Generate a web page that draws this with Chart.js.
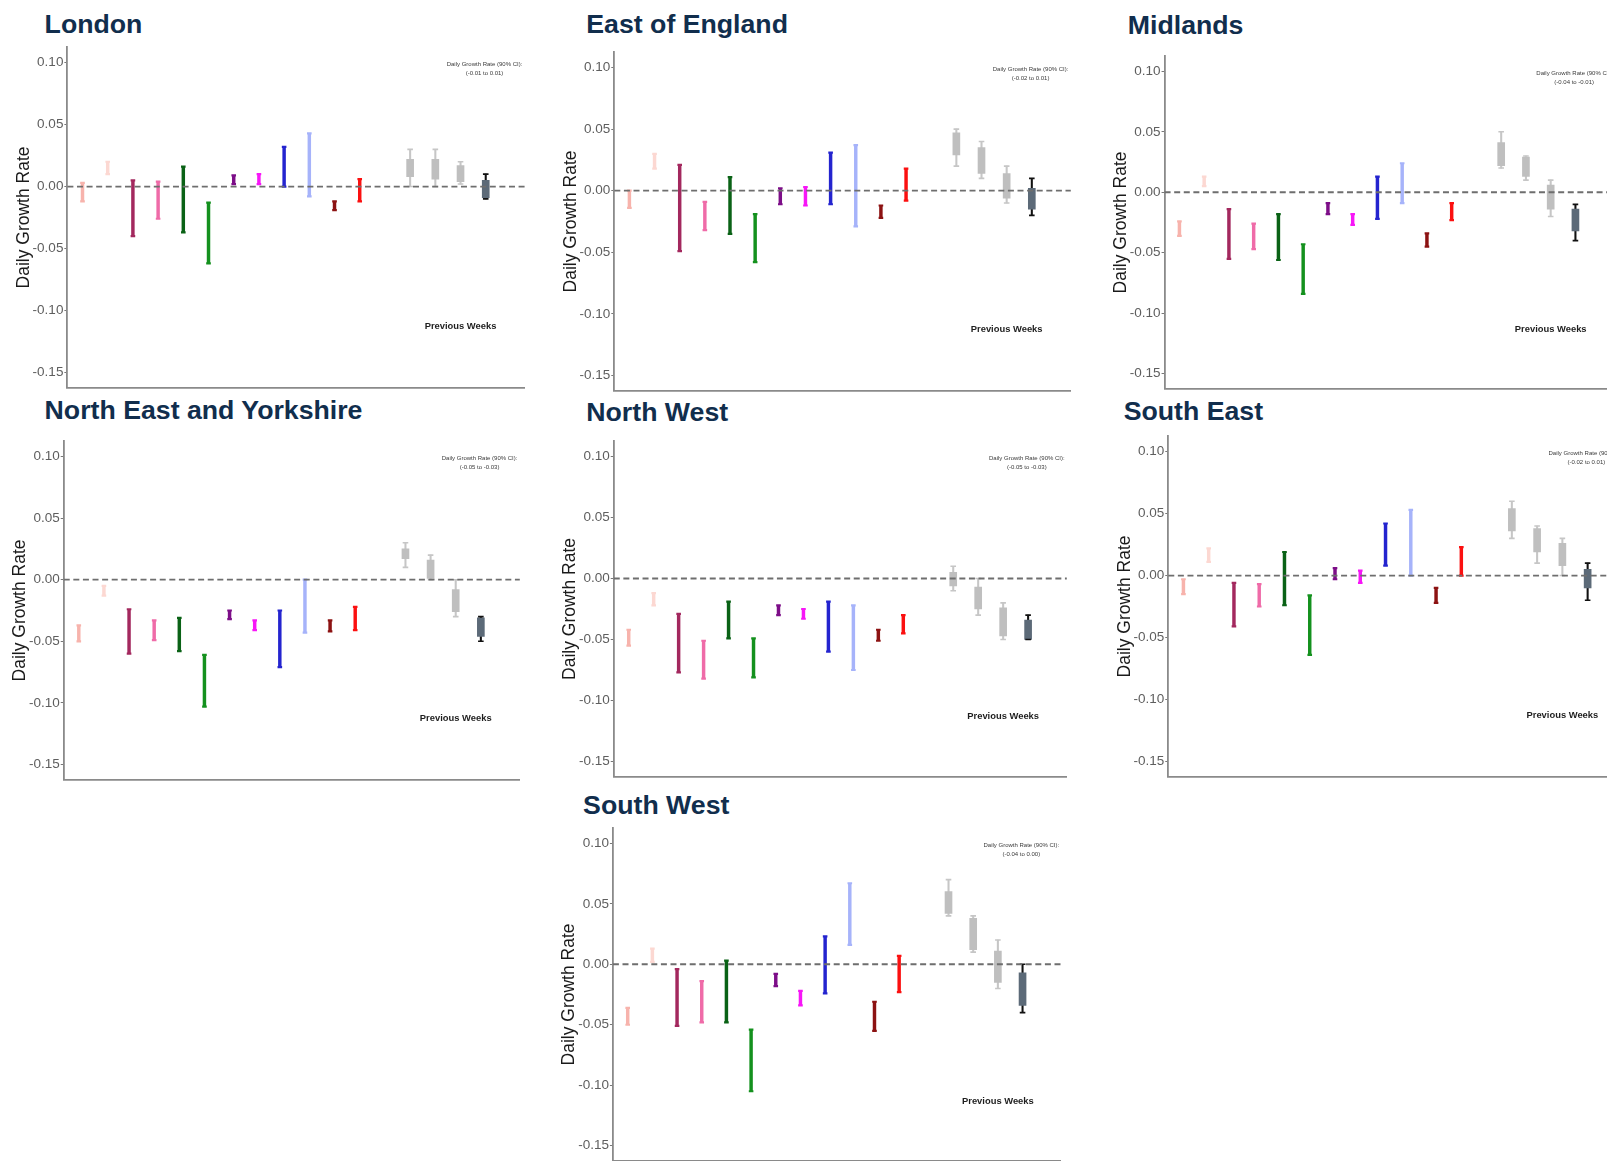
<!DOCTYPE html>
<html>
<head>
<meta charset="utf-8">
<title>Daily Growth Rate by Region</title>
<script src="https://cdn.jsdelivr.net/npm/chart.js@4.4.1/dist/chart.umd.min.js"></script>
<style>
  html, body { margin: 0; padding: 0; background: #ffffff; }
  body { position: relative; width: 1607px; height: 1161px; overflow: hidden;
         font-family: "Liberation Sans", Arial, Helvetica, sans-serif; }
  .region-title { position: absolute; white-space: nowrap; font-weight: bold;
                  font-size: 26.7px; line-height: 26.7px; color: #112e4d; }
  canvas.panel { position: absolute; }
</style>
</head>
<body>
<script>
// ---------------------------------------------------------------
// Data: daily growth rate intervals (90% CI) for each variant group,
// plus the four previous-week estimates shown as grey box plots.
// ---------------------------------------------------------------
const regionNames = ['London', 'East of England', 'Midlands', 'North East and Yorkshire',
                     'North West', 'South East', 'South West'];

const variantSlots = [1, 2, 3, 4, 5, 6, 7, 8, 9, 10, 11, 12];
const weekSlots = [14, 15, 16, 17];

const variantColours = ['#f7b3ac', '#fcd8d2', '#a3285e', '#ef6ba8', '#0a6216', '#14911e',
                        '#7d0e88', '#f716f7', '#2424cf', '#a6b3fa', '#8c1212', '#fb1010'];
const weekBoxColours = ['#bfbfbf', '#bfbfbf', '#bfbfbf', '#5c6a78'];
const weekWhiskerColours = ['#c6c6c6', '#c6c6c6', '#c6c6c6', '#111111'];

const yTickValues = [-0.15, -0.10, -0.05, 0.00, 0.05, 0.10];
const yTickLabels = ['-0.15', '-0.10', '-0.05', '0.00', '0.05', '0.10'];

// London
const londonLow      = [-0.012, 0.010, -0.040, -0.026, -0.037, -0.062, 0.002, 0.002, 0.000, -0.008, -0.019, -0.012];
const londonHigh     = [ 0.003, 0.020,  0.005,  0.004,  0.016, -0.013, 0.009, 0.010, 0.032,  0.043, -0.012,  0.006];
const londonWeekLow  = [0.000, 0.000, 0.002, -0.010];
const londonWeekHigh = [0.030, 0.030, 0.020,  0.010];
const londonBoxLow   = [0.008, 0.006, 0.004, -0.009];
const londonBoxHigh  = [0.022, 0.022, 0.017,  0.005];
const londonCI = '(-0.01 to 0.01)';

// East of England
const eastLow      = [-0.014, 0.018, -0.049, -0.032, -0.035, -0.058, -0.011, -0.012, -0.011, -0.029, -0.022, -0.008];
const eastHigh     = [ 0.000, 0.030,  0.021, -0.009,  0.011, -0.019,  0.002,  0.003,  0.031,  0.037, -0.012,  0.018];
const eastWeekLow  = [0.020, 0.010, -0.010, -0.020];
const eastWeekHigh = [0.050, 0.040,  0.020,  0.010];
const eastBoxLow   = [0.029, 0.014, -0.006, -0.015];
const eastBoxHigh  = [0.047, 0.035,  0.014,  0.002];
const eastCI = '(-0.02 to 0.01)';

// Midlands
const midlandsLow      = [-0.036, 0.005, -0.055, -0.047, -0.056, -0.084, -0.018, -0.027, -0.022, -0.009, -0.045, -0.023];
const midlandsHigh     = [-0.024, 0.013, -0.014, -0.026, -0.018, -0.043, -0.009, -0.018,  0.013,  0.024, -0.034, -0.009];
const midlandsWeekLow  = [0.020, 0.010, -0.020, -0.040];
const midlandsWeekHigh = [0.050, 0.030,  0.010, -0.010];
const midlandsBoxLow   = [0.022, 0.013, -0.014, -0.032];
const midlandsBoxHigh  = [0.041, 0.029,  0.006, -0.014];
const midlandsCI = '(-0.04 to -0.01)';

// North East and Yorkshire
const neyLow      = [-0.050, -0.013, -0.060, -0.049, -0.058, -0.103, -0.032, -0.041, -0.071, -0.043, -0.042, -0.041];
const neyHigh     = [-0.037, -0.005, -0.024, -0.033, -0.031, -0.061, -0.025, -0.033, -0.025,  0.000, -0.033, -0.022];
const neyWeekLow  = [0.010, 0.000, -0.030, -0.050];
const neyWeekHigh = [0.030, 0.020,  0.000, -0.030];
const neyBoxLow   = [0.017, 0.001, -0.026, -0.046];
const neyBoxHigh  = [0.025, 0.016, -0.008, -0.031];
const neyCI = '(-0.05 to -0.03)';

// North West
const northWestLow      = [-0.055, -0.022, -0.077, -0.082, -0.049, -0.081, -0.030, -0.033, -0.060, -0.075, -0.051, -0.045];
const northWestHigh     = [-0.042, -0.012, -0.029, -0.051, -0.019, -0.049, -0.022, -0.025, -0.019, -0.022, -0.042, -0.030];
const northWestWeekLow  = [-0.010, -0.030, -0.050, -0.050];
const northWestWeekHigh = [ 0.010,  0.000, -0.020, -0.030];
const northWestBoxLow   = [-0.006, -0.025, -0.047, -0.050];
const northWestBoxHigh  = [ 0.005, -0.007, -0.024, -0.034];
const northWestCI = '(-0.05 to -0.03)';

// South East
const southEastLow      = [-0.015, 0.011, -0.041, -0.025, -0.024, -0.064, -0.003, -0.006, 0.008, 0.000, -0.022, 0.000];
const southEastHigh     = [-0.003, 0.022, -0.006, -0.007,  0.019, -0.016,  0.006,  0.004, 0.042, 0.053, -0.010, 0.023];
const southEastWeekLow  = [0.030, 0.010, 0.000, -0.020];
const southEastWeekHigh = [0.060, 0.040, 0.030,  0.010];
const southEastBoxLow   = [0.036, 0.019, 0.008, -0.010];
const southEastBoxHigh  = [0.054, 0.038, 0.026,  0.005];
const southEastCI = '(-0.02 to 0.01)';

// South West
const southWestLow      = [-0.050, 0.002, -0.051, -0.048, -0.048, -0.105, -0.018, -0.034, -0.024, 0.016, -0.055, -0.023];
const southWestHigh     = [-0.036, 0.013, -0.004, -0.014,  0.003, -0.054, -0.008, -0.022,  0.023, 0.067, -0.031,  0.007];
const southWestWeekLow  = [0.040, 0.010, -0.020, -0.040];
const southWestWeekHigh = [0.070, 0.040,  0.020,  0.000];
const southWestBoxLow   = [0.042, 0.012, -0.015, -0.034];
const southWestBoxHigh  = [0.060, 0.038,  0.011, -0.007];
const southWestCI = '(-0.04 to 0.00)';

const regions = [
  { low: londonLow,    high: londonHigh,    wLow: londonWeekLow,    wHigh: londonWeekHigh,    bLow: londonBoxLow,    bHigh: londonBoxHigh,    ci: londonCI },
  { low: eastLow,      high: eastHigh,      wLow: eastWeekLow,      wHigh: eastWeekHigh,      bLow: eastBoxLow,      bHigh: eastBoxHigh,      ci: eastCI },
  { low: midlandsLow,  high: midlandsHigh,  wLow: midlandsWeekLow,  wHigh: midlandsWeekHigh,  bLow: midlandsBoxLow,  bHigh: midlandsBoxHigh,  ci: midlandsCI },
  { low: neyLow,       high: neyHigh,       wLow: neyWeekLow,       wHigh: neyWeekHigh,       bLow: neyBoxLow,       bHigh: neyBoxHigh,       ci: neyCI },
  { low: northWestLow, high: northWestHigh, wLow: northWestWeekLow, wHigh: northWestWeekHigh, bLow: northWestBoxLow, bHigh: northWestBoxHigh, ci: northWestCI },
  { low: southEastLow, high: southEastHigh, wLow: southEastWeekLow, wHigh: southEastWeekHigh, bLow: southEastBoxLow, bHigh: southEastBoxHigh, ci: southEastCI },
  { low: southWestLow, high: southWestHigh, wLow: southWestWeekLow, wHigh: southWestWeekHigh, bLow: southWestBoxLow, bHigh: southWestBoxHigh, ci: southWestCI }
];

// ---------------------------------------------------------------
// Page layout of the seven panels (pixel placement of each plot area)
// zero: pixel row of y = 0, unit: pixels per 0.05, x1: pixel of slot 1, step: slot spacing
// ---------------------------------------------------------------
const panelLayout = [
  { titleX: 44.6,   titleBase: 33.3,  zero: 186,   unit: 62.94, x1: 82.6,   step: 25.36 },
  { titleX: 586.3,  titleBase: 33.3,  zero: 190,   unit: 62.66, x1: 629.5,  step: 25.32 },
  { titleX: 1127.8, titleBase: 35,    zero: 191.7, unit: 61.54, x1: 1179.5, step: 24.88 },
  { titleX: 44.6,   titleBase: 420,   zero: 579.3, unit: 62.46, x1: 78.9,   step: 25.30 },
  { titleX: 586.3,  titleBase: 421.7, zero: 578,   unit: 62,    x1: 628.8,  step: 25.10 },
  { titleX: 1123.7, titleBase: 420.7, zero: 575,   unit: 62.86, x1: 1183.5, step: 25.39 },
  { titleX: 583.1,  titleBase: 815,   zero: 964,   unit: 61.52, x1: 627.8,  step: 24.83 }
];

const X_MIN = 0.4, X_MAX = 18.55;
const Y_MIN = -0.1625, Y_MAX = 0.1125;
const Y_AXIS_WIDTH = 53.5;
const FONT = '"Liberation Sans", Arial, Helvetica, sans-serif';

Chart.defaults.font.family = FONT;

// Small text notes placed in data coordinates
const panelNotes = {
  id: 'panelNotes',
  afterDatasetsDraw(chart, args, opts) {
    const { ctx } = chart;
    const xs = chart.scales.x, ys = chart.scales.y;
    ctx.save();
    ctx.textAlign = 'center';
    ctx.textBaseline = 'middle';
    for (const n of opts.items || []) {
      ctx.font = n.font;
      ctx.fillStyle = n.color;
      ctx.fillText(n.text, xs.getPixelForValue(n.x), ys.getPixelForValue(n.y));
    }
    ctx.restore();
  }
};

function buildPanel(region, name, lay) {
  const axTop = lay.zero - (Y_MAX / 0.05) * lay.unit;
  const axBottom = lay.zero - (Y_MIN / 0.05) * lay.unit;
  const axLeft = lay.x1 + (X_MIN - 1) * lay.step;
  const axRight = lay.x1 + (X_MAX - 1) * lay.step;

  const cLeft = Math.round(axLeft - Y_AXIS_WIDTH);
  const cTop = Math.floor(axTop) - 3;
  const cW = Math.ceil(axRight) + 3 - cLeft;
  const cH = Math.ceil(axBottom) + 3 - cTop;
  const yWidth = axLeft - cLeft;

  // region heading
  const t = document.createElement('div');
  t.className = 'region-title';
  t.textContent = name;
  t.style.left = lay.titleX + 'px';
  t.style.top = (lay.titleBase - 22.6) + 'px';
  document.body.appendChild(t);

  const canvas = document.createElement('canvas');
  canvas.className = 'panel';
  canvas.width = cW; canvas.height = cH;
  canvas.style.left = cLeft + 'px';
  canvas.style.top = cTop + 'px';
  canvas.style.width = cW + 'px';
  canvas.style.height = cH + 'px';
  document.body.appendChild(canvas);

  const variantBars = variantSlots.map((x, i) => ({ x, y: [region.low[i], region.high[i]] }));
  const variantCaps = [];
  const variantCapColours = [];
  variantSlots.forEach((x, i) => {
    variantCaps.push({ x, y: region.low[i] }, { x, y: region.high[i] });
    variantCapColours.push(variantColours[i], variantColours[i]);
  });

  const weekWhiskers = weekSlots.map((x, i) => ({ x, y: [region.wLow[i], region.wHigh[i]] }));
  const weekBoxes = weekSlots.map((x, i) => ({ x, y: [region.bLow[i], region.bHigh[i]] }));
  const weekCaps = [];
  const weekCapColours = [];
  weekSlots.forEach((x, i) => {
    weekCaps.push({ x, y: region.wLow[i] }, { x, y: region.wHigh[i] });
    weekCapColours.push(weekWhiskerColours[i], weekWhiskerColours[i]);
  });

  new Chart(canvas, {
    type: 'bar',
    data: {
      datasets: [
        { // reference line at zero growth
          type: 'line', order: -1,
          data: [{ x: X_MIN, y: 0 }, { x: X_MAX, y: 0 }],
          borderColor: '#6e6e6e', borderWidth: 1.8, borderDash: [6, 3.6],
          pointRadius: 0, fill: false, clip: false
        },
        { // variant interval caps
          type: 'scatter', order: 2,
          data: variantCaps,
          pointStyle: 'line', pointRadius: 2.3, pointBorderWidth: 2.2,
          pointBorderColor: variantCapColours, pointBackgroundColor: variantCapColours
        },
        { // variant intervals
          type: 'bar', order: 3, grouped: false,
          data: variantBars,
          backgroundColor: variantColours, borderWidth: 0,
          barThickness: 2.8, maxBarThickness: 2.8
        },
        { // previous-week whisker caps
          type: 'scatter', order: 4,
          data: weekCaps,
          pointStyle: 'line', pointRadius: 2.8, pointBorderWidth: 1.6,
          pointBorderColor: weekCapColours, pointBackgroundColor: weekCapColours
        },
        { // previous-week boxes
          type: 'bar', order: 5, grouped: false,
          data: weekBoxes,
          backgroundColor: weekBoxColours, borderWidth: 0,
          barThickness: 7, maxBarThickness: 7
        },
        { // previous-week whiskers
          type: 'bar', order: 6, grouped: false,
          data: weekWhiskers,
          backgroundColor: weekWhiskerColours, borderWidth: 0,
          barThickness: 1.4, maxBarThickness: 1.4
        }
      ]
    },
    options: {
      responsive: false,
      animation: false,
      devicePixelRatio: 1,
      events: [],
      layout: { padding: { left: 0, top: axTop - cTop, right: cLeft + cW - axRight, bottom: cTop + cH - axBottom } },
      plugins: {
        legend: { display: false },
        tooltip: { enabled: false },
        panelNotes: {
          items: [
            { text: 'Daily Growth Rate (90% CI):', x: 16.95, y: 0.0985, font: '6px ' + FONT, color: '#3a3a3a' },
            { text: region.ci, x: 16.95, y: 0.0910, font: '6px ' + FONT, color: '#3a3a3a' },
            { text: 'Previous Weeks', x: 16.0, y: -0.113, font: 'bold 9.4px ' + FONT, color: '#1e1e1e' }
          ]
        }
      },
      scales: {
        x: {
          type: 'linear', min: X_MIN, max: X_MAX, offset: false, bounds: 'data',
          ticks: { display: false },
          grid: { display: true, drawOnChartArea: false, drawTicks: false },
          border: { display: true, color: '#8a8a8a', width: 1.8 },
          afterFit: s => { s.height = 0; s.paddingLeft = 0; s.paddingRight = 0; s.paddingTop = 0; s.paddingBottom = 0; }
        },
        y: {
          type: 'linear', min: Y_MIN, max: Y_MAX, bounds: 'data',
          afterBuildTicks: s => { s.ticks = yTickValues.map(v => ({ value: v })); },
          ticks: {
            callback: (v, i) => yTickLabels[i],
            color: '#5e5e5e', font: { size: 13.5 }, padding: 1
          },
          grid: { display: true, drawOnChartArea: false, drawTicks: true, tickLength: 3, color: '#777777', lineWidth: 1 },
          border: { display: true, color: '#8a8a8a', width: 1.8 },
          title: { display: true, text: 'Daily Growth Rate', color: '#1a1a1a', font: { size: 17.5 }, padding: { top: 0, bottom: 0 } },
          afterFit: s => { s.width = yWidth; s.paddingTop = 0; s.paddingBottom = 0; s.paddingLeft = 0; s.paddingRight = 0; }
        }
      }
    },
    plugins: [panelNotes]
  });
}

regions.forEach((r, i) => buildPanel(r, regionNames[i], panelLayout[i]));
</script>
</body>
</html>
